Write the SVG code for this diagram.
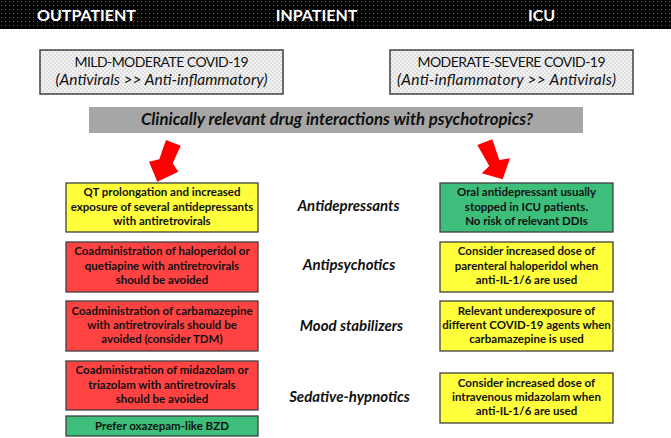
<svg xmlns="http://www.w3.org/2000/svg" width="671" height="438" viewBox="0 0 671 438">
<defs>
<pattern id="dots" width="4" height="4" patternUnits="userSpaceOnUse">
<rect width="4" height="4" fill="#000"/>
<rect x="1" y="1" width="1" height="1" fill="#6a6a6a"/>
</pattern>
<pattern id="check" width="4" height="4" patternUnits="userSpaceOnUse">
<rect width="4" height="4" fill="#f4f4f4"/>
<rect width="2" height="2" fill="#dedede"/>
<rect x="2" y="2" width="2" height="2" fill="#dedede"/>
</pattern>
</defs>
<style>
text{font-family:Lato,"Liberation Sans",sans-serif;text-anchor:middle;fill:#111}
.hdr{fill:#fff;font-weight:bold;font-size:16px}
.sev{fill:url(#check);stroke:#404040;stroke-width:1.5}
.sevt{font-size:14px}
.it{font-style:italic;font-size:15.5px}
.bar{fill:#a6a6a6}
.bart{font-size:16.8px;font-weight:bold;font-style:italic}
.box{stroke:#404040;stroke-width:1.3}
.y{fill:#ffff3b}
.r{fill:#ff4343}
.g{fill:#3dbe7a}
.bt{font-size:11.5px;font-weight:bold}
.cat{font-size:15px;font-weight:bold;font-style:italic}
.arrow{fill:#ff0000}
</style>
<rect x="0" y="0" width="671" height="29" fill="url(#dots)"/>
<text class="hdr" x="86.5" y="21">OUTPATIENT</text>
<text class="hdr" x="316.5" y="21">INPATIENT</text>
<text class="hdr" x="541.5" y="21">ICU</text>

<g id="mild">
<rect class="sev" x="40" y="50" width="243" height="44"/>
<text class="sevt" x="161.5" y="67" textLength="174">MILD-MODERATE COVID-19</text>
<text class="sevt it" x="161.5" y="85" textLength="212">(Antivirals &gt;&gt; Anti-inflammatory)</text>
</g>
<g id="severe">
<rect class="sev" x="390" y="50" width="243" height="44"/>
<text class="sevt" x="511.5" y="67" textLength="188">MODERATE-SEVERE COVID-19</text>
<text class="sevt it" x="506.5" y="85" textLength="219">(Anti-inflammatory &gt;&gt; Antivirals)</text>
</g>
<g id="question">
<rect class="bar" x="89" y="107" width="494" height="26"/>
<text class="bart" x="337" y="125">Clinically relevant drug interactions with psychotropics?</text>
</g>

<g id="connectors">
<polygon class="arrow" points="166,140 180.7,145.7 172.7,163.3 178.3,171.7 157.3,181.7 149,161.7 159.3,159.3"/>
<polygon class="arrow" points="477.3,145 492.3,139.3 499.3,160 510,158.3 502.7,179.3 481.7,173.3 489.3,166"/>
</g>

<g id="out-antidepressants">
<rect class="box y" x="66" y="183" width="192" height="49"/>
<text class="bt" x="162" y="196">QT prolongation and increased</text>
<text class="bt" x="162" y="211">exposure of several antidepressants</text>
<text class="bt" x="162" y="225">with antiretrovirals</text>
</g>
<g id="out-antipsychotics">
<rect class="box r" x="66" y="242" width="192" height="50"/>
<text class="bt" x="162" y="255">Coadministration of haloperidol or</text>
<text class="bt" x="162" y="270">quetiapine with antiretrovirals</text>
<text class="bt" x="162" y="284">should be avoided</text>
</g>
<g id="out-mood">
<rect class="box r" x="66" y="301" width="192" height="50"/>
<text class="bt" x="162" y="315">Coadministration of carbamazepine</text>
<text class="bt" x="162" y="329">with antiretrovirals should be</text>
<text class="bt" x="162" y="343">avoided (consider TDM)</text>
</g>
<g id="out-sedative">
<rect class="box r" x="66" y="361" width="192" height="49"/>
<text class="bt" x="162" y="374">Coadministration of midazolam or</text>
<text class="bt" x="162" y="389">triazolam with antiretrovirals</text>
<text class="bt" x="162" y="403">should be avoided</text>
</g>
<g id="out-bzd">
<rect class="box g" x="66" y="416" width="192" height="20"/>
<text class="bt" x="162" y="430">Prefer oxazepam-like BZD</text>
</g>

<g id="cat-antidepressants"><text class="cat" x="348.5" y="211">Antidepressants</text></g>
<g id="cat-antipsychotics"><text class="cat" x="349" y="270">Antipsychotics</text></g>
<g id="cat-mood"><text class="cat" x="351.5" y="331">Mood stabilizers</text></g>
<g id="cat-sedative"><text class="cat" x="349.5" y="402">Sedative-hypnotics</text></g>

<g id="icu-antidepressants">
<rect class="box g" x="440" y="183" width="173" height="49"/>
<text class="bt" x="526.5" y="196">Oral antidepressant usually</text>
<text class="bt" x="526.5" y="211">stopped in ICU patients.</text>
<text class="bt" x="526.5" y="225">No risk of relevant DDIs</text>
</g>
<g id="icu-antipsychotics">
<rect class="box y" x="440" y="242" width="173" height="50"/>
<text class="bt" x="526.5" y="255">Consider increased dose of</text>
<text class="bt" x="526.5" y="270">parenteral haloperidol when</text>
<text class="bt" x="526.5" y="284">anti-IL-1/6 are used</text>
</g>
<g id="icu-mood">
<rect class="box y" x="440" y="301" width="173" height="50"/>
<text class="bt" x="526.5" y="315">Relevant underexposure of</text>
<text class="bt" x="526.5" y="329">different COVID-19 agents when</text>
<text class="bt" x="526.5" y="343">carbamazepine is used</text>
</g>
<g id="icu-sedative">
<rect class="box y" x="440" y="373" width="173" height="50"/>
<text class="bt" x="526.5" y="387">Consider increased dose of</text>
<text class="bt" x="526.5" y="401">intravenous midazolam when</text>
<text class="bt" x="526.5" y="415">anti-IL-1/6 are used</text>
</g>
</svg>
